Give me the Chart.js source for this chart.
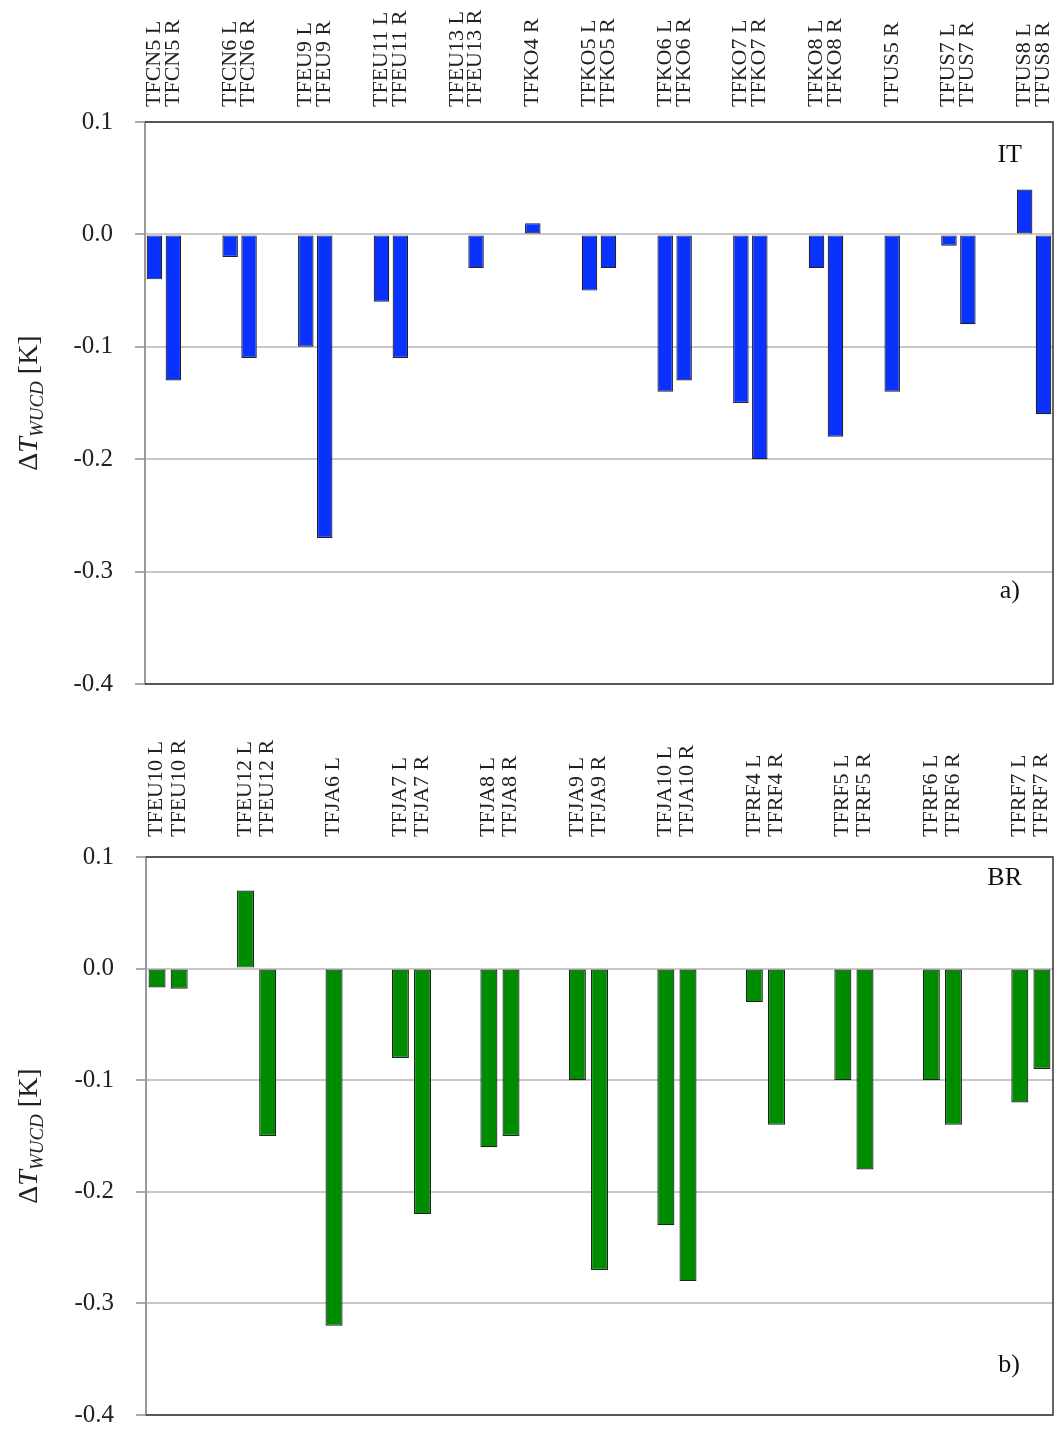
<!DOCTYPE html>
<html>
<head>
<meta charset="utf-8">
<script src="https://cdn.jsdelivr.net/npm/chart.js@4.4.1/dist/chart.umd.min.js"></script>
<style>
  html, body { margin: 0; padding: 0; background: #fff; overflow: hidden; }
  #wrap { position: relative; width: 1058px; height: 1433px; overflow: hidden; }
  canvas { position: absolute; left: 0; }
  #chart-it { top: 0; }
  #chart-br { top: 735px; }
</style>
</head>
<body>
<div id="wrap">
  <canvas id="chart-it" width="1058" height="721"></canvas>
  <canvas id="chart-br" width="1058" height="717"></canvas>
</div>
<script>
// panel a) IT — one slot per bar, empty slots are the gaps between pairs
const itLabels = [
  'TFCN5 L', 'TFCN5 R', '', '',
  'TFCN6 L', 'TFCN6 R', '', '',
  'TFEU9 L', 'TFEU9 R', '', '',
  'TFEU11 L', 'TFEU11 R', '', '',
  'TFEU13 L', 'TFEU13 R', '', '',
  'TFKO4 R', '', '',
  'TFKO5 L', 'TFKO5 R', '', '',
  'TFKO6 L', 'TFKO6 R', '', '',
  'TFKO7 L', 'TFKO7 R', '', '',
  'TFKO8 L', 'TFKO8 R', '', '',
  'TFUS5 R', '', '',
  'TFUS7 L', 'TFUS7 R', '', '',
  'TFUS8 L', 'TFUS8 R',
];
const itValues = [
  -0.04, -0.13, null, null,
  -0.02, -0.11, null, null,
  -0.10, -0.27, null, null,
  -0.06, -0.11, null, null,
  null, -0.03, null, null,
  0.01, null, null,
  -0.05, -0.03, null, null,
  -0.14, -0.13, null, null,
  -0.15, -0.20, null, null,
  -0.03, -0.18, null, null,
  -0.14, null, null,
  -0.01, -0.08, null, null,
  0.04, -0.16,
];

// panel b) BR
const brLabels = [
  'TFEU10 L', 'TFEU10 R', '', '',
  'TFEU12 L', 'TFEU12 R', '', '',
  'TFJA6 L', '', '',
  'TFJA7 L', 'TFJA7 R', '', '',
  'TFJA8 L', 'TFJA8 R', '', '',
  'TFJA9 L', 'TFJA9 R', '', '',
  'TFJA10 L', 'TFJA10 R', '', '',
  'TFRF4 L', 'TFRF4 R', '', '',
  'TFRF5 L', 'TFRF5 R', '', '',
  'TFRF6 L', 'TFRF6 R', '', '',
  'TFRF7 L', 'TFRF7 R',
];
const brValues = [
  -0.017, -0.018, null, null,
  0.07, -0.15, null, null,
  -0.32, null, null,
  -0.08, -0.22, null, null,
  -0.16, -0.15, null, null,
  -0.10, -0.27, null, null,
  -0.23, -0.28, null, null,
  -0.03, -0.14, null, null,
  -0.10, -0.18, null, null,
  -0.10, -0.14, null, null,
  -0.12, -0.09,
];

const yTicks = [0.1, 0.0, -0.1, -0.2, -0.3, -0.4];

const SERIF = '"Liberation Serif", "DejaVu Serif", serif';

// box round the plot, y title with subscript, panel tags
const framePlugin = {
  id: 'frame',
  afterDraw(chart, args, opts) {
    const { ctx, chartArea: a } = chart;
    ctx.save();
    ctx.strokeStyle = '#333';
    ctx.lineWidth = 1.5;
    ctx.beginPath();
    ctx.moveTo(a.left, a.top);
    ctx.lineTo(a.right, a.top);
    ctx.lineTo(a.right, a.bottom);
    ctx.lineTo(a.left, a.bottom);
    ctx.stroke();

    // ΔT_WUCD [K]
    const parts = [
      { t: '\u0394', f: `28px ${SERIF}`, dy: 0 },
      { t: 'T', f: `italic 28px ${SERIF}`, dy: 0 },
      { t: 'WUCD', f: `italic 19px ${SERIF}`, dy: 6 },
      { t: ' [K]', f: `28px ${SERIF}`, dy: 0 },
    ];
    let total = 0;
    parts.forEach(p => { ctx.font = p.f; p.w = ctx.measureText(p.t).width; total += p.w; });
    ctx.translate(opts.titleX, (a.top + a.bottom) / 2);
    ctx.rotate(-Math.PI / 2);
    ctx.fillStyle = '#222';
    ctx.textBaseline = 'alphabetic';
    let x = -total / 2;
    parts.forEach(p => {
      ctx.font = p.f;
      ctx.fillText(p.t, x, 10 + p.dy);
      x += p.w;
    });
    ctx.restore();

    ctx.save();
    ctx.fillStyle = '#111';
    ctx.font = `26px ${SERIF}`;
    ctx.textAlign = 'right';
    ctx.fillText(opts.tag, opts.tagX, opts.tagY);
    ctx.fillText(opts.letter, opts.letterX, opts.letterY);
    ctx.restore();
  },
};

function makePanel(id, labels, values, color, barPct, yWidth, frame) {
  return new Chart(document.getElementById(id), {
    type: 'bar',
    data: {
      labels,
      datasets: [{
        data: values,
        backgroundColor: color,
        borderColor: '#222',
        borderWidth: 1.2,
        borderSkipped: false,
        barPercentage: barPct,
        categoryPercentage: 1,
      }],
    },
    options: {
      responsive: false,
      animation: false,
      layout: { padding: { top: 0, left: 0, right: 5, bottom: 17 } },
      plugins: {
        legend: { display: false },
        tooltip: { enabled: false },
        frame,
      },
      scales: {
        x: {
          type: 'category',
          position: 'top',
          grid: { display: false },
          border: { display: false },
          ticks: {
            autoSkip: false,
            maxRotation: 90,
            minRotation: 90,
            padding: frame.labelPad,
            labelOffset: 26,
            color: '#222',
            font: { family: SERIF, size: 22 },
          },
          afterFit: (s) => { s.height = 122; },
        },
        y: {
          min: -0.4,
          max: 0.1,
          afterBuildTicks: (s) => { s.ticks = yTicks.map(v => ({ value: v })); },
          grid: { color: '#c8c8c8', lineWidth: 2, tickLength: 10, tickColor: '#aaa' },
          border: { display: true, color: '#999', width: 2 },
          ticks: {
            padding: 22,
            color: '#222',
            font: { family: SERIF, size: 25 },
            callback: (v) => Number(v).toFixed(1),
          },
          afterFit: (s) => { s.width = yWidth; },
        },
      },
    },
    plugins: [framePlugin],
  });
}

makePanel('chart-it', itLabels, itValues, '#0a32ff', 0.82, 145, {
  labelPad: 7, titleX: 27,
  tag: 'IT', tagX: 1022, tagY: 162,
  letter: 'a)', letterX: 1020, letterY: 598,
});

makePanel('chart-br', brLabels, brValues, '#008c00', 0.77, 146, {
  labelPad: 12, titleX: 27,
  tag: 'BR', tagX: 1022, tagY: 885 - 735,
  letter: 'b)', letterX: 1020, letterY: 1372 - 735,
});
</script>
</body>
</html>
